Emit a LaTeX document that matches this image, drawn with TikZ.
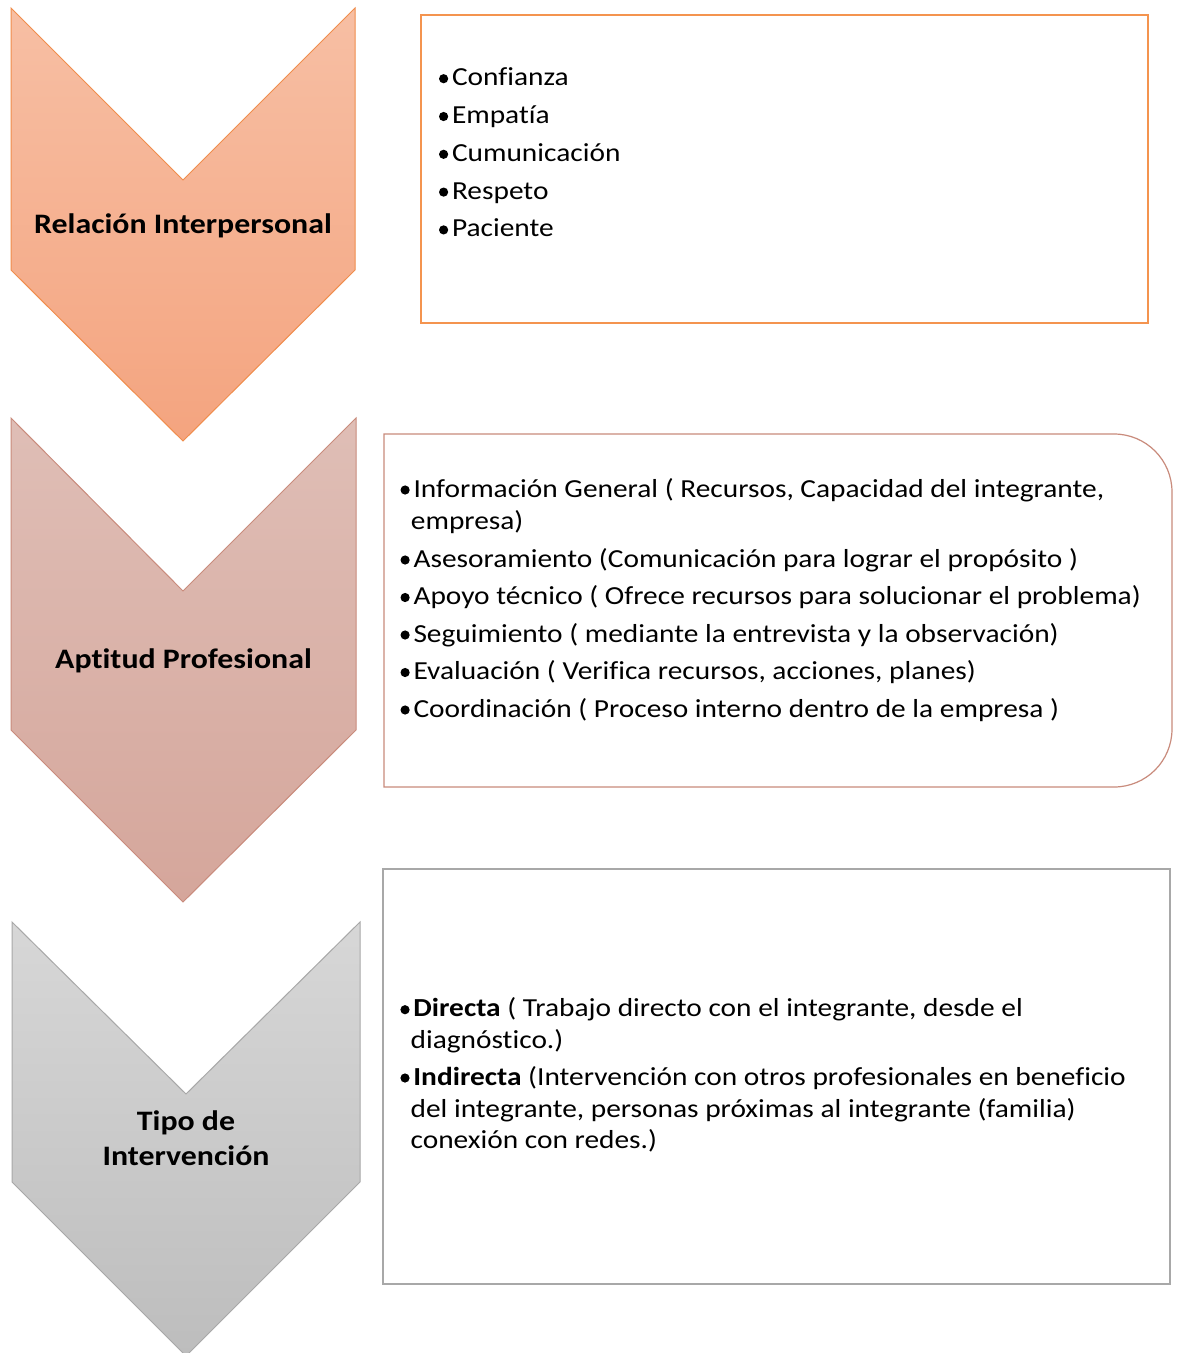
\documentclass[tikz,border=0pt]{standalone}
\usepackage{fontspec}
\setmainfont{Carlito}[FakeStretch=1.13, Ligatures=NoCommon]
\definecolor{peachtop}{HTML}{F7BFA4}
\definecolor{peachbot}{HTML}{F4A47F}
\definecolor{peachline}{HTML}{F08D4C}
\definecolor{rosetop}{HTML}{DFBEB6}
\definecolor{rosebot}{HTML}{D5A69B}
\definecolor{roseline}{HTML}{C98B7C}
\definecolor{greytop}{HTML}{D7D7D7}
\definecolor{greybot}{HTML}{BDBDBD}
\definecolor{greyline}{HTML}{A8A8A8}
\definecolor{orangebox}{HTML}{F4944F}
\begin{document}
\begin{tikzpicture}[x=1pt,y=-1pt,
  body/.style={font=\fontsize{26}{32}\selectfont, anchor=base west, inner sep=0pt},
  head/.style={font=\fontsize{28.2}{35}\selectfont\bfseries, anchor=base, inner sep=0pt},
  chev/.style={line width=1pt, line join=miter},
  ]
% canvas
\fill[white] (0,0) rectangle (1179,1353);
\useasboundingbox (0,0) rectangle (1179,1353);

% chevrons
\path[chev, draw=peachline, top color=peachtop, bottom color=peachbot]
  (11,8) -- (183,180) -- (355,8) -- (355,270) -- (183,441) -- (11,270) -- cycle;
\path[chev, draw=roseline, top color=rosetop, bottom color=rosebot]
  (11,418) -- (183,591) -- (356,418) -- (356,730) -- (183,902) -- (11,730) -- cycle;
\path[chev, draw=greyline, top color=greytop, bottom color=greybot]
  (12,922) -- (186,1094) -- (360,922) -- (360,1182) -- (186,1356) -- (12,1182) -- cycle;

\node[head] (h1) at (183,233) {Relación Interpersonal};
\node[head] (h2) at (183.5,668) {Aptitud Profesional};
\node[head] (h3a) at (186,1130) {Tipo de};
\node[head] (h3b) at (186,1165) {Intervención};

% boxes
\draw[orangebox, line width=1.5pt] (421,15) rectangle (1148,323);
\draw[roseline, line width=1.2pt] (384,434) -- (1114,434)
  arc[start angle=90, end angle=0, radius=58pt] -- (1172,729)
  arc[start angle=0, end angle=-90, radius=58pt] -- (384,787) -- cycle;
\draw[greyline, line width=1.2pt] (383,869) rectangle (1170,1284);

% first list
\node[body] (a1) at (451.8,85.7)  {Confianza};
\node[body] (a2) at (451.8,123.5) {Empatía};
\node[body] (a3) at (451.8,161.3) {Cumunicación};
\node[body] (a4) at (451.8,199.1) {Respeto};
\node[body] (a5) at (451.8,236.9) {Paciente};

% second list
\node[body] (b1) at (413.3,497) {Información General ( Recursos, Capacidad del integrante,};
\node[body] (b1c) at (410.7,529) {empresa)};
\node[body] (b2) at (413.3,567) {Asesoramiento (Comunicación para lograr el propósito )};
\node[body] (b3) at (413.3,604.5) {Apoyo técnico ( Ofrece recursos para solucionar el problema)};
\node[body] (b4) at (413.3,642) {Seguimiento ( mediante la entrevista y la observación)};
\node[body] (b5) at (413.3,679.5) {Evaluación ( Verifica recursos, acciones, planes)};
\node[body] (b6) at (413.3,717) {Coordinación ( Proceso interno dentro de la empresa )};

% third list
\node[body] (c1) at (413.2,1016.7) {\textbf{Directa} ( Trabajo directo con el integrante, desde el};
\node[body] (c1c) at (410.4,1048.5) {diagnóstico.)};
\node[body] (c2) at (413.2,1085) {\textbf{Indirecta} (Intervención con otros profesionales en beneficio};
\node[body] (c2b) at (410.4,1117) {del integrante, personas próximas al integrante (familia)};
\node[body] (c2c) at (410.4,1148.5) {conexión con redes.)};

% bullets in front of each item
\foreach \n in {a1,a2,a3,a4,a5,b1,b2,b3,b4,b5,b6,c1,c2}
  \fill ([shift={(-8.2,-7)}]\n.base west) circle (4.6pt);
\end{tikzpicture}
\end{document}
